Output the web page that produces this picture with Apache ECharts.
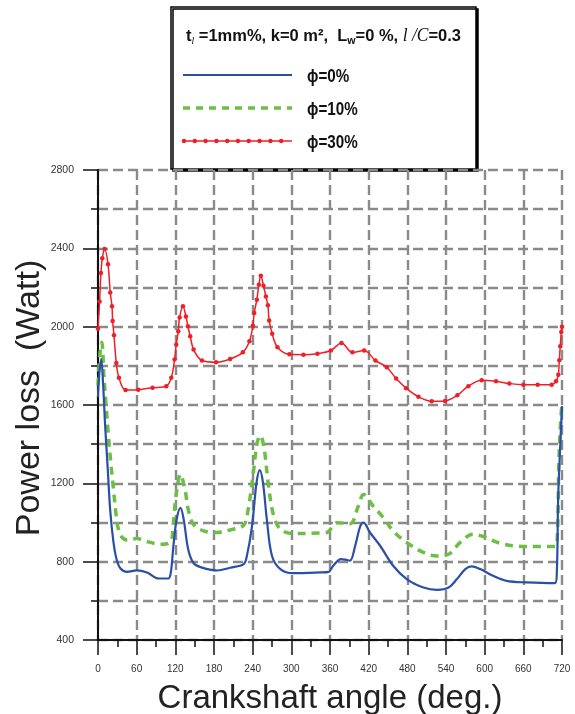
<!DOCTYPE html>
<html>
<head>
<meta charset="utf-8">
<script src="https://cdn.jsdelivr.net/npm/echarts@6/dist/echarts.min.js"></script>
<style>
  html, body { margin: 0; padding: 0; background: #fff; }
  #chart { width: 575px; height: 714px; }
</style>
</head>
<body>
<div id="chart"></div>
<script>
// Power loss over one engine cycle (0-720 deg crank angle) for three values of phi.

// phi = 0 %
const phi0Angle = [0, 2, 5, 8, 11, 15, 19, 24, 29, 35, 45, 60, 76, 94, 109, 113, 117, 122, 128, 133, 140, 148, 159, 185, 205, 226, 231, 239, 246, 251, 256, 262, 270, 283, 303, 345, 358, 365, 377, 384, 391, 399, 407, 412, 422, 438, 458, 479, 505, 526, 544, 557, 570, 580, 593, 613, 634, 665, 709, 712, 714, 717, 720];
const phi0Loss  = [1640, 1760, 1835, 1700, 1500, 1280, 1060, 900, 810, 765, 748, 756, 745, 714, 714, 745, 880, 1015, 1075, 1015, 862, 794, 772, 755, 769, 787, 829, 982, 1203, 1267, 1203, 1015, 829, 762, 741, 745, 748, 779, 813, 810, 805, 880, 982, 999, 949, 880, 779, 711, 668, 656, 668, 711, 762, 776, 762, 728, 702, 694, 690, 745, 1120, 1375, 1594];

// phi = 10 %
const phi10Angle = [0, 3, 6, 9, 12, 16, 20, 24, 28, 31, 36, 45, 60, 78, 97, 112, 117, 121, 128, 135, 140, 148, 164, 184, 205, 226, 233, 241, 247, 252, 258, 264, 272, 283, 303, 345, 355, 371, 391, 404, 412, 427, 443, 458, 479, 505, 526, 544, 562, 582, 598, 624, 650, 686, 709, 713, 715, 718, 720];
const phi10Loss  = [1700, 1860, 1920, 1760, 1620, 1450, 1300, 1170, 1040, 975, 930, 911, 918, 901, 889, 898, 999, 1135, 1246, 1169, 1067, 991, 957, 949, 962, 986, 1067, 1254, 1407, 1444, 1373, 1204, 1042, 966, 944, 946, 949, 999, 994, 1084, 1143, 1084, 1024, 957, 898, 847, 829, 838, 898, 940, 928, 894, 880, 877, 877, 949, 1288, 1526, 1602];

// phi = 30 %
const phi30Angle = [0, 2.5, 4.6, 6.7, 10.3, 15.5, 19, 21.7, 22.7, 24.8, 28.4, 32.5, 42.8, 62.5, 84.7, 105.9, 113.7, 118.8, 121.4, 124.5, 126.6, 131.8, 136.4, 139.5, 143.1, 148.3, 161.3, 183, 205, 224.8, 235, 240.3, 242.4, 246.5, 249.6, 252.7, 256.8, 260.5, 263.6, 265.6, 270.3, 278.5, 297.1, 318.8, 340.5, 361.3, 377.8, 394.8, 413, 430.5, 448.1, 462.6, 478, 497.2, 517.9, 538.5, 557.6, 574.7, 595.4, 617.6, 638.3, 660, 682.3, 704, 710.7, 714.3, 715.8, 717.3, 718.9, 720];
const phi30Loss  = [1990, 2129, 2274, 2350, 2396, 2319, 2175, 2104, 2029, 1956, 1815, 1739, 1676, 1678, 1688, 1696, 1739, 1832, 1908, 1976, 2047, 2104, 2052, 2002, 1951, 1883, 1827, 1818, 1835, 1869, 1925, 2005, 2070, 2138, 2214, 2260, 2209, 2154, 2109, 2031, 1964, 1895, 1859, 1857, 1862, 1878, 1917, 1869, 1878, 1827, 1793, 1735, 1686, 1642, 1619, 1621, 1650, 1696, 1726, 1721, 1710, 1704, 1704, 1704, 1721, 1755, 1828, 1900, 1973, 2000];

const seriesNames = ['ϕ=0%', 'ϕ=10%', 'ϕ=30%'];
const colors = { blue: '#2a4fa6', green: '#6cbf44', red: '#ee1f26' };

const pairs = (xs, ys) => xs.map((x, i) => [x, ys[i]]);

const gridDash = { color: '#8a8a8a', width: 2.4, type: [10, 5] };
const FONT = '"Liberation Sans", Arial, Helvetica, sans-serif';
const SERIF = '"Liberation Serif", "Times New Roman", serif';

const chart = echarts.init(document.getElementById('chart'), null, { renderer: 'canvas' });

// Legend drawn as a boxed panel with the parameter line on top
const legendX = 171, legendY = 7, legendW = 305, legendH = 162;
const sampleX0 = 183, sampleX1 = 292, labelX = 307;
const rowY = [75, 108, 141];

const redDots = [];
for (let x = sampleX0 + 1; x <= sampleX1; x += 10.8) {
  redDots.push({ type: 'circle', shape: { cx: x, cy: rowY[2], r: 2.2 }, style: { fill: colors.red } });
}

const legendGraphic = {
  type: 'group',
  children: [
    { type: 'rect', shape: { x: legendX, y: legendY, width: legendW, height: legendH },
      style: { fill: '#fff', stroke: '#000', lineWidth: 1.5, shadowColor: '#000', shadowOffsetX: 2, shadowOffsetY: 2, shadowBlur: 0 } },
    { type: 'text', x: 186, y: 36, scaleX: 0.97, scaleY: 1, originX: 0, originY: 0,
      style: {
        text: '{b|t}{s|l}{b| =1mm%, k=0 m²,  L}{s2|w}{b|=0 %, }{i|l /C}{b|=0.3}',
        verticalAlign: 'middle', align: 'left',
        rich: {
          b: { fontFamily: FONT, fontWeight: 'bold', fontSize: 17, fill: '#111' },
          s: { fontFamily: SERIF, fontStyle: 'italic', fontSize: 10, fill: '#111', padding: [10, 0, 0, 0] },
          s2: { fontFamily: FONT, fontWeight: 'bold', fontSize: 11, fill: '#111', padding: [10, 0, 0, 0] },
          i: { fontFamily: SERIF, fontStyle: 'italic', fontSize: 18, fill: '#111' }
        }
      } },
    { type: 'line', shape: { x1: sampleX0, y1: rowY[0], x2: sampleX1, y2: rowY[0] },
      style: { stroke: colors.blue, lineWidth: 2 } },
    { type: 'line', shape: { x1: sampleX0, y1: rowY[1], x2: sampleX1, y2: rowY[1] },
      style: { stroke: colors.green, lineWidth: 3.5, lineDash: [7, 6] } },
    { type: 'line', shape: { x1: sampleX0, y1: rowY[2], x2: sampleX1, y2: rowY[2] },
      style: { stroke: colors.red, lineWidth: 1.5 } },
    ...redDots,
    ...seriesNames.map((name, i) => ({
      type: 'text', x: labelX, y: rowY[i] + 2, scaleX: 0.8, originX: 0, originY: 0,
      style: { text: name, fontFamily: FONT, fontWeight: 'bold', fontSize: 19, fill: '#111', verticalAlign: 'middle' }
    }))
  ]
};

const option = {
  animation: false,
  backgroundColor: '#fff',
  grid: { left: 98, right: 13, top: 170, bottom: 74, containLabel: false, outerBoundsMode: 'none' },
  xAxis: {
    type: 'value', min: 0, max: 720, interval: 60,
    name: 'Crankshaft angle (deg.)', nameLocation: 'middle', nameGap: 42,
    nameTextStyle: { fontFamily: FONT, fontSize: 33, color: '#222' },
    axisLine: { lineStyle: { color: '#111', width: 2 } },
    axisTick: { length: 15, lineStyle: { color: '#111', width: 1.5 } },
    minorTick: { show: true, splitNumber: 2, length: 7, lineStyle: { color: '#111', width: 1.5 } },
    axisLabel: { fontFamily: FONT, fontSize: 10, color: '#333', margin: 24 },
    splitLine: { show: true, lineStyle: gridDash }
  },
  yAxis: {
    type: 'value', min: 400, max: 2800, interval: 400,
    axisLine: { show: true, lineStyle: { color: '#111', width: 2 } },
    axisTick: { show: true, length: 15, lineStyle: { color: '#111', width: 1.5 } },
    minorTick: { show: true, splitNumber: 2, length: 7, lineStyle: { color: '#111', width: 1.5 } },
    axisLabel: { fontFamily: FONT, fontSize: 10.5, color: '#333', margin: 24, formatter: v => String(v) },
    splitLine: { show: true, lineStyle: gridDash },
    minorSplitLine: { show: true, lineStyle: gridDash }
  },
  graphic: [
    { type: 'text', x: 30, y: 398, rotation: Math.PI / 2,
      style: { text: 'Power loss  (Watt)', fontFamily: FONT, fontSize: 34, fill: '#222', align: 'center', verticalAlign: 'middle' } },
    legendGraphic
  ],
  series: [
    { name: seriesNames[1], type: 'line', data: pairs(phi10Angle, phi10Loss), smooth: 0.35,
      showSymbol: false, lineStyle: { color: colors.green, width: 3.5, type: [8, 6] }, z: 3 },
    { name: seriesNames[0], type: 'line', data: pairs(phi0Angle, phi0Loss), smooth: 0.35,
      showSymbol: false, lineStyle: { color: colors.blue, width: 2.2 }, z: 4 },
    { name: seriesNames[2], type: 'line', data: pairs(phi30Angle, phi30Loss), smooth: 0.35,
      symbol: 'circle', symbolSize: 4.5, showSymbol: true,
      itemStyle: { color: colors.red }, lineStyle: { color: colors.red, width: 1.5 }, z: 5 }
  ]
};

chart.setOption(option);
</script>
</body>
</html>
